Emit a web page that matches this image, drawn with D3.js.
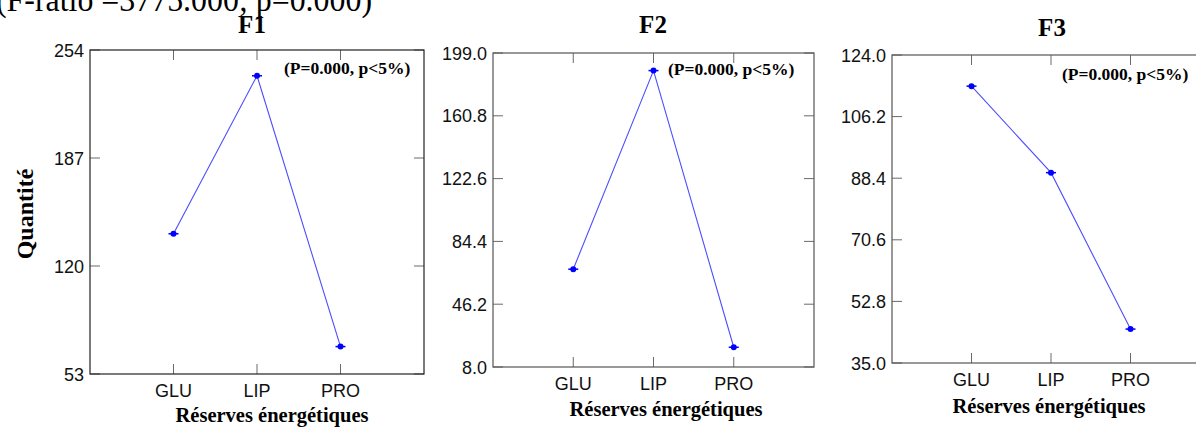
<!DOCTYPE html>
<html><head><meta charset="utf-8">
<script src="https://cdn.jsdelivr.net/npm/d3@7"></script>
<style>body{margin:0;background:#fff;overflow:hidden}svg{display:block}</style>
</head><body>
<svg id="c" width="1196" height="427"></svg>
<script>
const categories = ["GLU", "LIP", "PRO"];
const panelTitles = ["F1", "F2", "F3"];
const f1Values = [140.0, 238.0, 70.0];
const f2Values = [67.5, 188.3, 20.0];
const f3Values = [115.0, 90.0, 44.8];
const f1Ticks = [53, 120, 187, 254];
const f2Ticks = [8.0, 46.2, 84.4, 122.6, 160.8, 199.0];
const f3Ticks = [35.0, 52.8, 70.6, 88.4, 106.2, 124.0];
const annotation = "(P=0.000, p<5%)";
const topText = "(F-ratio =3775.000; p=0.000)";
const xTitle = "Réserves énergétiques";
const yTitle = "Quantité";

const layout = [
  {l:90, r:424, t:50, b:374, fmt:d3.format("d"), titleX:252, titleY:33, annY:74, annX:284, xlabY:397, xtY:422, xtX:272},
  {l:493, r:814, t:53, b:367, fmt:d3.format(".1f"), titleX:653, titleY:33, annY:75, annX:668, xlabY:390, xtY:416, xtX:666},
  {l:892, r:1210, t:55, b:363, fmt:d3.format(".1f"), titleX:1052, titleY:36, annY:80, annX:1062, xlabY:386, xtY:413, xtX:1049}
];
const series = [f1Values, f2Values, f3Values];
const ticks = [f1Ticks, f2Ticks, f3Ticks];

const svg = d3.select("#c");
const serif = "'Liberation Serif','Times New Roman',serif";
const sans = "'Liberation Sans',Arial,sans-serif";

svg.append("text").attr("x", -4).attr("y", 11)
  .attr("font-family", serif).attr("font-size", 34).attr("fill", "#000")
  .attr("textLength", 376).attr("lengthAdjust", "spacingAndGlyphs")
  .text(topText);

svg.append("text").attr("transform", "translate(33,214) rotate(-90)")
  .attr("text-anchor", "middle").attr("font-family", serif).attr("font-weight", "bold")
  .attr("font-size", 24).attr("fill", "#000").text(yTitle);

layout.forEach((L, i) => {
  const vals = series[i], tk = ticks[i];
  const x = d3.scaleLinear().domain([0, 4]).range([L.l, L.r]);
  const y = d3.scaleLinear().domain([tk[0], tk[tk.length - 1]]).range([L.b, L.t]);
  const g = svg.append("g");
  const frame = "#6a6a6a";

  [1,2,3].forEach(k => {
    g.append("line").attr("x1", x(k)).attr("x2", x(k)).attr("y1", L.b).attr("y2", L.b - 10).attr("stroke", frame);
    g.append("line").attr("x1", x(k)).attr("x2", x(k)).attr("y1", L.t).attr("y2", L.t + 10).attr("stroke", frame);
  });
  tk.forEach(v => {
    g.append("line").attr("x1", L.l).attr("x2", L.l + 10).attr("y1", y(v)).attr("y2", y(v)).attr("stroke", frame);
    g.append("line").attr("x1", L.r).attr("x2", L.r - 10).attr("y1", y(v)).attr("y2", y(v)).attr("stroke", frame);
  });

  g.append("rect").attr("x", L.l).attr("y", L.t).attr("width", L.r - L.l).attr("height", L.b - L.t)
    .attr("fill", "none").attr("stroke", i === 0 ? "#222" : "#555").attr("stroke-width", 1.2);

  g.selectAll(".yl").data(tk).join("text")
    .attr("x", L.l - 6).attr("y", d => y(d) + 6.5).attr("text-anchor", "end")
    .attr("font-family", sans).attr("font-size", 18).attr("fill", "#111")
    .text(d => L.fmt(d));

  g.selectAll(".xl").data(categories).join("text")
    .attr("x", (d, k) => x(k + 1)).attr("y", L.xlabY).attr("text-anchor", "middle")
    .attr("font-family", sans).attr("font-size", 18).attr("fill", "#111")
    .text(d => d);

  g.append("text").attr("x", L.titleX).attr("y", L.titleY)
    .attr("text-anchor", "middle").attr("font-family", serif).attr("font-weight", "bold")
    .attr("font-size", 25).attr("fill", "#000").text(panelTitles[i]);

  g.append("text").attr("x", L.annX).attr("y", L.annY)
    .attr("font-family", serif).attr("font-weight", "bold").attr("font-size", 17.5).attr("fill", "#000")
    .text(annotation);

  g.append("text").attr("x", L.xtX).attr("y", L.xtY).attr("text-anchor", "middle")
    .attr("font-family", serif).attr("font-weight", "bold").attr("font-size", 20.5).attr("fill", "#000")
    .text(xTitle);

  const line = d3.line().x((d, k) => x(k + 1)).y(d => y(d));
  g.append("path").datum(vals).attr("d", line).attr("fill", "none")
    .attr("stroke", "#4d4dff").attr("stroke-width", 1.1);

  vals.forEach((v, k) => {
    g.append("line").attr("x1", x(k + 1) - 5).attr("x2", x(k + 1) + 5)
      .attr("y1", y(v)).attr("y2", y(v)).attr("stroke", "#0000ff").attr("stroke-width", 1.5);
    g.append("circle").attr("cx", x(k + 1)).attr("cy", y(v)).attr("r", 3).attr("fill", "#0000ff");
  });
});
</script>
</body></html>
